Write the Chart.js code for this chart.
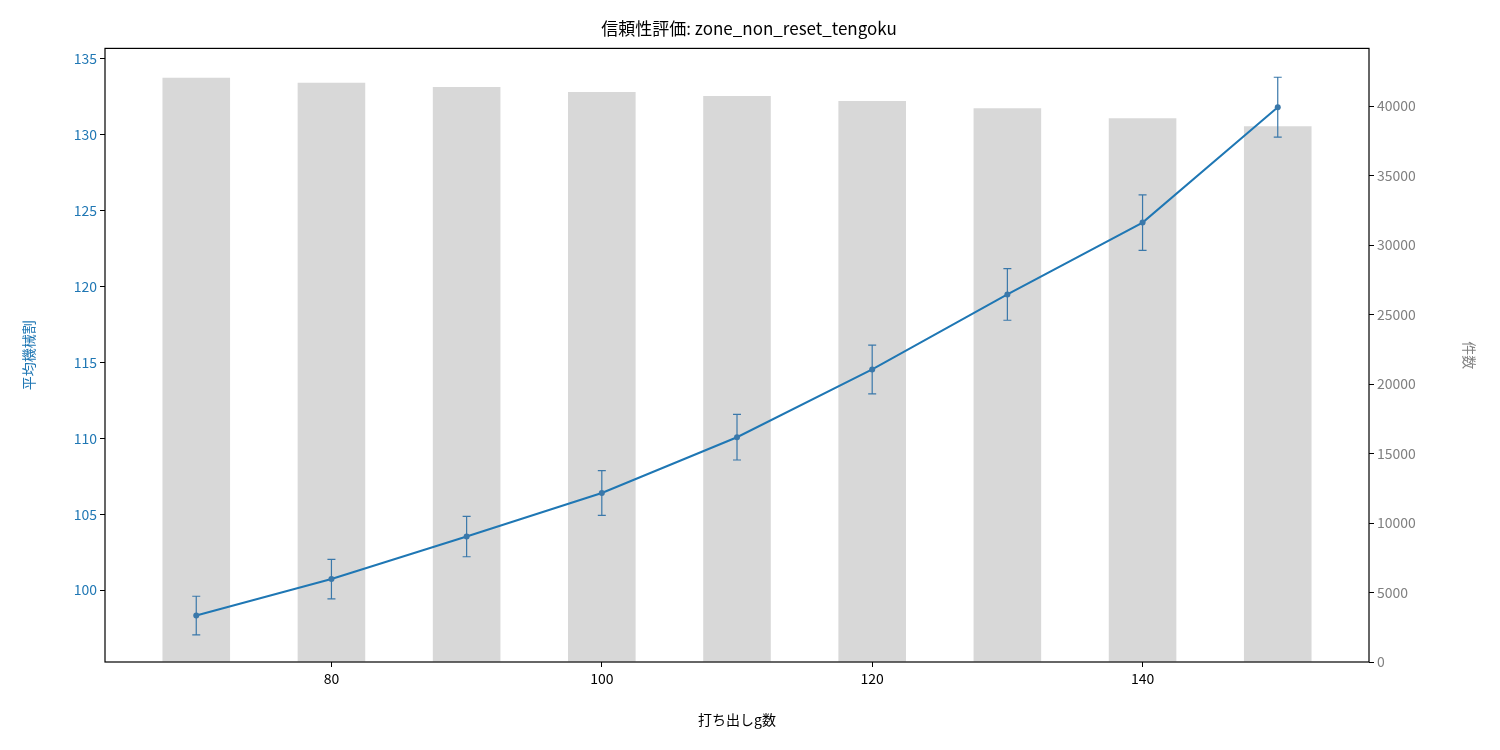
<!DOCTYPE html>
<html><head><meta charset="utf-8">
<script src="https://cdn.jsdelivr.net/npm/chart.js@4.4.0/dist/chart.umd.min.js"></script>
<style>body{margin:0;background:#fff}#w{width:1500px;height:750px}</style></head>
<body><div id="w"><canvas id="c" width="1500" height="750"></canvas></div>
<script>
const xs=[70,80,90,100,110,120,130,140,150];
const counts=[42040,41680,41380,41020,40730,40360,39850,39130,38540];
const means=[98.33,100.73,103.53,106.4,110.07,114.53,119.47,124.2,131.8];
const errs=[1.27,1.3,1.33,1.47,1.5,1.6,1.7,1.83,1.97];
const xTicks=[80,100,120,140];
const yLeftTicks=[100,105,110,115,120,125,130,135];
const yRightTicks=[0,5000,10000,15000,20000,25000,30000,35000,40000];
const F="'Noto Sans CJK JP','DejaVu Sans',sans-serif";
const blue='#1f77b4';
const errPlugin={id:'err',afterDatasetsDraw(ch){
 const c=ch.ctx,x=ch.scales.x,y=ch.scales.y;
 c.save();c.strokeStyle='#3a78aa';c.lineWidth=1.2;
 xs.forEach((v,i)=>{const px=x.getPixelForValue(v),t=y.getPixelForValue(means[i]+errs[i]),b=y.getPixelForValue(means[i]-errs[i]);
  c.beginPath();c.moveTo(px,t);c.lineTo(px,b);c.moveTo(px-4,t);c.lineTo(px+4,t);c.moveTo(px-4,b);c.lineTo(px+4,b);c.stroke();
  c.beginPath();c.fillStyle='#3a78aa';c.arc(px,y.getPixelForValue(means[i]),3,0,7);c.fill();});
 const a=ch.chartArea;c.strokeStyle='#000';c.lineWidth=1.2;c.strokeRect(a.left,a.top,a.right-a.left,a.bottom-a.top);c.restore();}};
const fix=(list)=>s=>{s.ticks=list.map(v=>({value:v}));};
new Chart(document.getElementById('c'),{
 data:{datasets:[
  {type:'line',data:xs.map((v,i)=>({x:v,y:means[i]})),borderColor:blue,borderWidth:2,pointRadius:0,yAxisID:'y',order:0},
  {type:'bar',data:xs.map((v,i)=>({x:v,y:counts[i]})),backgroundColor:'#d8d8d8',barPercentage:0.5,categoryPercentage:1,yAxisID:'y1',order:1}
 ]},
 options:{responsive:false,animation:false,devicePixelRatio:1,
  layout:{padding:{top:18,right:22,left:20,bottom:22}},
  plugins:{legend:{display:false},tooltip:{enabled:false},
   title:{display:true,text:'信頼性評価: zone_non_reset_tengoku',font:{family:F,size:17,weight:'normal'},color:'#000',padding:{top:0,bottom:10}}},
  scales:{
   x:{type:'linear',offset:false,min:63.25,max:156.75,afterBuildTicks:fix(xTicks),
    grid:{offset:false,drawOnChartArea:false,tickLength:5,color:'#000'},border:{display:false},
    ticks:{font:{family:F,size:14},color:'#000'},
    title:{display:true,text:'打ち出しg数',font:{family:F,size:14},color:'#000',padding:0},afterFit(s){s.height=66}},
   y:{position:'left',min:95.27,max:135.67,afterBuildTicks:fix(yLeftTicks),
    grid:{drawOnChartArea:false,tickLength:5,color:'#000'},border:{display:false},
    ticks:{font:{family:F,size:14},color:blue},
    title:{display:true,text:'平均機械割',font:{family:F,size:14},color:blue,padding:0},afterFit(s){s.width=85}},
   y1:{position:'right',min:0,max:44150,afterBuildTicks:fix(yRightTicks),
    grid:{drawOnChartArea:false,tickLength:5,color:'#000'},border:{display:false},
    ticks:{font:{family:F,size:14},color:'#808080',callback:v=>String(v)},
    title:{display:true,text:'件数',font:{family:F,size:14},color:'#808080',padding:0},afterFit(s){s.width=109}}
  }},
 plugins:[errPlugin]});
</script></body></html>
